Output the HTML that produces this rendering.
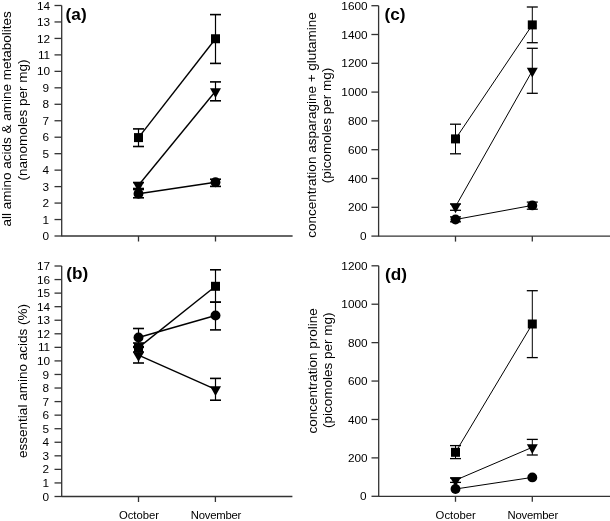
<!DOCTYPE html>
<html><head><meta charset="utf-8"><style>
html,body{margin:0;padding:0;background:#fff;}
body{width:610px;height:521px;overflow:hidden;}
svg{display:block;will-change:transform;font-family:"Liberation Sans", sans-serif;}
</style></head><body>
<svg width="610" height="521" viewBox="0 0 610 521">
<rect width="610" height="521" fill="#fff"/>
<g fill="#000">
<line x1="61.70" y1="5.50" x2="61.70" y2="236.50" stroke="#333" stroke-width="1.3"/>
<line x1="54.50" y1="236.00" x2="61.70" y2="236.00" stroke="#333" stroke-width="1.3"/>
<text x="49.10" y="240.10" text-anchor="end" font-size="11.8" font-weight="normal" >0</text>
<line x1="54.50" y1="219.54" x2="61.70" y2="219.54" stroke="#333" stroke-width="1.3"/>
<text x="49.10" y="223.64" text-anchor="end" font-size="11.8" font-weight="normal" >1</text>
<line x1="54.50" y1="203.07" x2="61.70" y2="203.07" stroke="#333" stroke-width="1.3"/>
<text x="49.10" y="207.17" text-anchor="end" font-size="11.8" font-weight="normal" >2</text>
<line x1="54.50" y1="186.61" x2="61.70" y2="186.61" stroke="#333" stroke-width="1.3"/>
<text x="49.10" y="190.71" text-anchor="end" font-size="11.8" font-weight="normal" >3</text>
<line x1="54.50" y1="170.14" x2="61.70" y2="170.14" stroke="#333" stroke-width="1.3"/>
<text x="49.10" y="174.24" text-anchor="end" font-size="11.8" font-weight="normal" >4</text>
<line x1="54.50" y1="153.68" x2="61.70" y2="153.68" stroke="#333" stroke-width="1.3"/>
<text x="49.10" y="157.78" text-anchor="end" font-size="11.8" font-weight="normal" >5</text>
<line x1="54.50" y1="137.21" x2="61.70" y2="137.21" stroke="#333" stroke-width="1.3"/>
<text x="49.10" y="141.31" text-anchor="end" font-size="11.8" font-weight="normal" >6</text>
<line x1="54.50" y1="120.75" x2="61.70" y2="120.75" stroke="#333" stroke-width="1.3"/>
<text x="49.10" y="124.85" text-anchor="end" font-size="11.8" font-weight="normal" >7</text>
<line x1="54.50" y1="104.29" x2="61.70" y2="104.29" stroke="#333" stroke-width="1.3"/>
<text x="49.10" y="108.39" text-anchor="end" font-size="11.8" font-weight="normal" >8</text>
<line x1="54.50" y1="87.82" x2="61.70" y2="87.82" stroke="#333" stroke-width="1.3"/>
<text x="49.10" y="91.92" text-anchor="end" font-size="11.8" font-weight="normal" >9</text>
<line x1="54.50" y1="71.36" x2="61.70" y2="71.36" stroke="#333" stroke-width="1.3"/>
<text x="50.20" y="75.46" text-anchor="end" font-size="11.8" font-weight="normal" >10</text>
<line x1="54.50" y1="54.89" x2="61.70" y2="54.89" stroke="#333" stroke-width="1.3"/>
<text x="50.20" y="58.99" text-anchor="end" font-size="11.8" font-weight="normal" >11</text>
<line x1="54.50" y1="38.43" x2="61.70" y2="38.43" stroke="#333" stroke-width="1.3"/>
<text x="50.20" y="42.53" text-anchor="end" font-size="11.8" font-weight="normal" >12</text>
<line x1="54.50" y1="21.96" x2="61.70" y2="21.96" stroke="#333" stroke-width="1.3"/>
<text x="50.20" y="26.06" text-anchor="end" font-size="11.8" font-weight="normal" >13</text>
<line x1="54.50" y1="5.50" x2="61.70" y2="5.50" stroke="#333" stroke-width="1.3"/>
<text x="50.20" y="9.60" text-anchor="end" font-size="11.8" font-weight="normal" >14</text>
<line x1="61.70" y1="236.00" x2="292.60" y2="236.00" stroke="#333" stroke-width="1.3"/>
<line x1="138.50" y1="236.00" x2="138.50" y2="241.50" stroke="#333" stroke-width="1.3"/>
<line x1="215.50" y1="236.00" x2="215.50" y2="241.50" stroke="#333" stroke-width="1.3"/>
<line x1="61.70" y1="266.00" x2="61.70" y2="497.00" stroke="#333" stroke-width="1.3"/>
<line x1="54.50" y1="496.50" x2="61.70" y2="496.50" stroke="#333" stroke-width="1.3"/>
<text x="49.10" y="500.60" text-anchor="end" font-size="11.8" font-weight="normal" >0</text>
<line x1="54.50" y1="482.94" x2="61.70" y2="482.94" stroke="#333" stroke-width="1.3"/>
<text x="49.10" y="487.04" text-anchor="end" font-size="11.8" font-weight="normal" >1</text>
<line x1="54.50" y1="469.38" x2="61.70" y2="469.38" stroke="#333" stroke-width="1.3"/>
<text x="49.10" y="473.48" text-anchor="end" font-size="11.8" font-weight="normal" >2</text>
<line x1="54.50" y1="455.82" x2="61.70" y2="455.82" stroke="#333" stroke-width="1.3"/>
<text x="49.10" y="459.92" text-anchor="end" font-size="11.8" font-weight="normal" >3</text>
<line x1="54.50" y1="442.26" x2="61.70" y2="442.26" stroke="#333" stroke-width="1.3"/>
<text x="49.10" y="446.36" text-anchor="end" font-size="11.8" font-weight="normal" >4</text>
<line x1="54.50" y1="428.71" x2="61.70" y2="428.71" stroke="#333" stroke-width="1.3"/>
<text x="49.10" y="432.81" text-anchor="end" font-size="11.8" font-weight="normal" >5</text>
<line x1="54.50" y1="415.15" x2="61.70" y2="415.15" stroke="#333" stroke-width="1.3"/>
<text x="49.10" y="419.25" text-anchor="end" font-size="11.8" font-weight="normal" >6</text>
<line x1="54.50" y1="401.59" x2="61.70" y2="401.59" stroke="#333" stroke-width="1.3"/>
<text x="49.10" y="405.69" text-anchor="end" font-size="11.8" font-weight="normal" >7</text>
<line x1="54.50" y1="388.03" x2="61.70" y2="388.03" stroke="#333" stroke-width="1.3"/>
<text x="49.10" y="392.13" text-anchor="end" font-size="11.8" font-weight="normal" >8</text>
<line x1="54.50" y1="374.47" x2="61.70" y2="374.47" stroke="#333" stroke-width="1.3"/>
<text x="49.10" y="378.57" text-anchor="end" font-size="11.8" font-weight="normal" >9</text>
<line x1="54.50" y1="360.91" x2="61.70" y2="360.91" stroke="#333" stroke-width="1.3"/>
<text x="50.20" y="365.01" text-anchor="end" font-size="11.8" font-weight="normal" >10</text>
<line x1="54.50" y1="347.35" x2="61.70" y2="347.35" stroke="#333" stroke-width="1.3"/>
<text x="50.20" y="351.45" text-anchor="end" font-size="11.8" font-weight="normal" >11</text>
<line x1="54.50" y1="333.79" x2="61.70" y2="333.79" stroke="#333" stroke-width="1.3"/>
<text x="50.20" y="337.89" text-anchor="end" font-size="11.8" font-weight="normal" >12</text>
<line x1="54.50" y1="320.24" x2="61.70" y2="320.24" stroke="#333" stroke-width="1.3"/>
<text x="50.20" y="324.34" text-anchor="end" font-size="11.8" font-weight="normal" >13</text>
<line x1="54.50" y1="306.68" x2="61.70" y2="306.68" stroke="#333" stroke-width="1.3"/>
<text x="50.20" y="310.78" text-anchor="end" font-size="11.8" font-weight="normal" >14</text>
<line x1="54.50" y1="293.12" x2="61.70" y2="293.12" stroke="#333" stroke-width="1.3"/>
<text x="50.20" y="297.22" text-anchor="end" font-size="11.8" font-weight="normal" >15</text>
<line x1="54.50" y1="279.56" x2="61.70" y2="279.56" stroke="#333" stroke-width="1.3"/>
<text x="50.20" y="283.66" text-anchor="end" font-size="11.8" font-weight="normal" >16</text>
<line x1="54.50" y1="266.00" x2="61.70" y2="266.00" stroke="#333" stroke-width="1.3"/>
<text x="50.20" y="270.10" text-anchor="end" font-size="11.8" font-weight="normal" >17</text>
<line x1="61.70" y1="496.50" x2="292.40" y2="496.50" stroke="#333" stroke-width="1.3"/>
<line x1="138.50" y1="496.50" x2="138.50" y2="502.00" stroke="#333" stroke-width="1.3"/>
<line x1="215.40" y1="496.50" x2="215.40" y2="502.00" stroke="#333" stroke-width="1.3"/>
<line x1="378.60" y1="5.70" x2="378.60" y2="236.60" stroke="#333" stroke-width="1.3"/>
<line x1="371.40" y1="236.10" x2="378.60" y2="236.10" stroke="#333" stroke-width="1.3"/>
<text x="366.50" y="240.20" text-anchor="end" font-size="11.8" font-weight="normal" >0</text>
<line x1="371.40" y1="207.30" x2="378.60" y2="207.30" stroke="#333" stroke-width="1.3"/>
<text x="367.60" y="211.40" text-anchor="end" font-size="11.8" font-weight="normal" >200</text>
<line x1="371.40" y1="178.50" x2="378.60" y2="178.50" stroke="#333" stroke-width="1.3"/>
<text x="367.60" y="182.60" text-anchor="end" font-size="11.8" font-weight="normal" >400</text>
<line x1="371.40" y1="149.70" x2="378.60" y2="149.70" stroke="#333" stroke-width="1.3"/>
<text x="367.60" y="153.80" text-anchor="end" font-size="11.8" font-weight="normal" >600</text>
<line x1="371.40" y1="120.90" x2="378.60" y2="120.90" stroke="#333" stroke-width="1.3"/>
<text x="367.60" y="125.00" text-anchor="end" font-size="11.8" font-weight="normal" >800</text>
<line x1="371.40" y1="92.10" x2="378.60" y2="92.10" stroke="#333" stroke-width="1.3"/>
<text x="367.60" y="96.20" text-anchor="end" font-size="11.8" font-weight="normal" >1000</text>
<line x1="371.40" y1="63.30" x2="378.60" y2="63.30" stroke="#333" stroke-width="1.3"/>
<text x="367.60" y="67.40" text-anchor="end" font-size="11.8" font-weight="normal" >1200</text>
<line x1="371.40" y1="34.50" x2="378.60" y2="34.50" stroke="#333" stroke-width="1.3"/>
<text x="367.60" y="38.60" text-anchor="end" font-size="11.8" font-weight="normal" >1400</text>
<line x1="371.40" y1="5.70" x2="378.60" y2="5.70" stroke="#333" stroke-width="1.3"/>
<text x="367.60" y="9.80" text-anchor="end" font-size="11.8" font-weight="normal" >1600</text>
<line x1="378.60" y1="236.10" x2="610.00" y2="236.10" stroke="#333" stroke-width="1.3"/>
<line x1="455.50" y1="236.10" x2="455.50" y2="241.60" stroke="#333" stroke-width="1.3"/>
<line x1="532.30" y1="236.10" x2="532.30" y2="241.60" stroke="#333" stroke-width="1.3"/>
<line x1="378.70" y1="265.80" x2="378.70" y2="496.80" stroke="#333" stroke-width="1.3"/>
<line x1="371.50" y1="496.30" x2="378.70" y2="496.30" stroke="#333" stroke-width="1.3"/>
<text x="366.50" y="500.40" text-anchor="end" font-size="11.8" font-weight="normal" >0</text>
<line x1="371.50" y1="457.88" x2="378.70" y2="457.88" stroke="#333" stroke-width="1.3"/>
<text x="367.60" y="461.98" text-anchor="end" font-size="11.8" font-weight="normal" >200</text>
<line x1="371.50" y1="419.47" x2="378.70" y2="419.47" stroke="#333" stroke-width="1.3"/>
<text x="367.60" y="423.57" text-anchor="end" font-size="11.8" font-weight="normal" >400</text>
<line x1="371.50" y1="381.05" x2="378.70" y2="381.05" stroke="#333" stroke-width="1.3"/>
<text x="367.60" y="385.15" text-anchor="end" font-size="11.8" font-weight="normal" >600</text>
<line x1="371.50" y1="342.63" x2="378.70" y2="342.63" stroke="#333" stroke-width="1.3"/>
<text x="367.60" y="346.73" text-anchor="end" font-size="11.8" font-weight="normal" >800</text>
<line x1="371.50" y1="304.22" x2="378.70" y2="304.22" stroke="#333" stroke-width="1.3"/>
<text x="367.60" y="308.32" text-anchor="end" font-size="11.8" font-weight="normal" >1000</text>
<line x1="371.50" y1="265.80" x2="378.70" y2="265.80" stroke="#333" stroke-width="1.3"/>
<text x="367.60" y="269.90" text-anchor="end" font-size="11.8" font-weight="normal" >1200</text>
<line x1="378.70" y1="496.30" x2="610.00" y2="496.30" stroke="#333" stroke-width="1.3"/>
<line x1="455.50" y1="496.30" x2="455.50" y2="501.80" stroke="#333" stroke-width="1.3"/>
<line x1="532.30" y1="496.30" x2="532.30" y2="501.80" stroke="#333" stroke-width="1.3"/>
<line x1="138.50" y1="137.60" x2="215.50" y2="38.75" stroke="#000" stroke-width="1.4"/>
<line x1="138.50" y1="185.30" x2="215.50" y2="91.30" stroke="#000" stroke-width="1.4"/>
<line x1="138.50" y1="193.70" x2="215.50" y2="182.20" stroke="#000" stroke-width="1.4"/>
<line x1="138.50" y1="337.50" x2="215.50" y2="315.50" stroke="#000" stroke-width="1.4"/>
<line x1="138.50" y1="347.60" x2="215.50" y2="286.30" stroke="#000" stroke-width="1.4"/>
<line x1="138.50" y1="355.20" x2="215.50" y2="389.30" stroke="#000" stroke-width="1.4"/>
<line x1="455.50" y1="138.90" x2="532.30" y2="24.90" stroke="#000" stroke-width="1.0"/>
<line x1="455.50" y1="206.60" x2="532.30" y2="70.80" stroke="#000" stroke-width="1.0"/>
<line x1="455.50" y1="219.50" x2="532.30" y2="205.40" stroke="#000" stroke-width="1.0"/>
<line x1="455.50" y1="452.30" x2="532.30" y2="324.00" stroke="#000" stroke-width="1.0"/>
<line x1="455.50" y1="480.20" x2="532.30" y2="447.30" stroke="#000" stroke-width="1.0"/>
<line x1="455.50" y1="489.00" x2="532.30" y2="477.40" stroke="#000" stroke-width="1.0"/>
<line x1="138.50" y1="128.90" x2="138.50" y2="146.50" stroke="#000" stroke-width="1.2"/>
<line x1="133.00" y1="128.90" x2="144.00" y2="128.90" stroke="#000" stroke-width="1.6"/>
<line x1="133.00" y1="146.50" x2="144.00" y2="146.50" stroke="#000" stroke-width="1.6"/>
<line x1="215.50" y1="14.60" x2="215.50" y2="63.40" stroke="#000" stroke-width="1.2"/>
<line x1="210.00" y1="14.60" x2="221.00" y2="14.60" stroke="#000" stroke-width="1.6"/>
<line x1="210.00" y1="63.40" x2="221.00" y2="63.40" stroke="#000" stroke-width="1.6"/>
<line x1="138.50" y1="182.50" x2="138.50" y2="188.50" stroke="#000" stroke-width="1.2"/>
<line x1="133.00" y1="182.50" x2="144.00" y2="182.50" stroke="#000" stroke-width="1.6"/>
<line x1="133.00" y1="188.50" x2="144.00" y2="188.50" stroke="#000" stroke-width="1.6"/>
<line x1="215.50" y1="81.90" x2="215.50" y2="100.80" stroke="#000" stroke-width="1.2"/>
<line x1="210.00" y1="81.90" x2="221.00" y2="81.90" stroke="#000" stroke-width="1.6"/>
<line x1="210.00" y1="100.80" x2="221.00" y2="100.80" stroke="#000" stroke-width="1.6"/>
<line x1="138.50" y1="189.50" x2="138.50" y2="197.80" stroke="#000" stroke-width="1.2"/>
<line x1="133.00" y1="189.50" x2="144.00" y2="189.50" stroke="#000" stroke-width="1.6"/>
<line x1="133.00" y1="197.80" x2="144.00" y2="197.80" stroke="#000" stroke-width="1.6"/>
<line x1="215.50" y1="179.20" x2="215.50" y2="186.40" stroke="#000" stroke-width="1.2"/>
<line x1="210.00" y1="179.20" x2="221.00" y2="179.20" stroke="#000" stroke-width="1.6"/>
<line x1="210.00" y1="186.40" x2="221.00" y2="186.40" stroke="#000" stroke-width="1.6"/>
<line x1="138.50" y1="328.50" x2="138.50" y2="346.50" stroke="#000" stroke-width="1.2"/>
<line x1="133.00" y1="328.50" x2="144.00" y2="328.50" stroke="#000" stroke-width="1.6"/>
<line x1="133.00" y1="346.50" x2="144.00" y2="346.50" stroke="#000" stroke-width="1.6"/>
<line x1="215.50" y1="302.20" x2="215.50" y2="329.90" stroke="#000" stroke-width="1.2"/>
<line x1="210.00" y1="302.20" x2="221.00" y2="302.20" stroke="#000" stroke-width="1.6"/>
<line x1="210.00" y1="329.90" x2="221.00" y2="329.90" stroke="#000" stroke-width="1.6"/>
<line x1="138.50" y1="343.00" x2="138.50" y2="352.00" stroke="#000" stroke-width="1.2"/>
<line x1="133.00" y1="343.00" x2="144.00" y2="343.00" stroke="#000" stroke-width="1.6"/>
<line x1="133.00" y1="352.00" x2="144.00" y2="352.00" stroke="#000" stroke-width="1.6"/>
<line x1="215.50" y1="269.80" x2="215.50" y2="302.20" stroke="#000" stroke-width="1.2"/>
<line x1="210.00" y1="269.80" x2="221.00" y2="269.80" stroke="#000" stroke-width="1.6"/>
<line x1="210.00" y1="302.20" x2="221.00" y2="302.20" stroke="#000" stroke-width="1.6"/>
<line x1="138.50" y1="347.40" x2="138.50" y2="363.00" stroke="#000" stroke-width="1.2"/>
<line x1="133.00" y1="347.40" x2="144.00" y2="347.40" stroke="#000" stroke-width="1.6"/>
<line x1="133.00" y1="363.00" x2="144.00" y2="363.00" stroke="#000" stroke-width="1.6"/>
<line x1="215.50" y1="378.40" x2="215.50" y2="400.20" stroke="#000" stroke-width="1.2"/>
<line x1="210.00" y1="378.40" x2="221.00" y2="378.40" stroke="#000" stroke-width="1.6"/>
<line x1="210.00" y1="400.20" x2="221.00" y2="400.20" stroke="#000" stroke-width="1.6"/>
<line x1="455.50" y1="124.20" x2="455.50" y2="153.80" stroke="#000" stroke-width="1.0"/>
<line x1="450.00" y1="124.20" x2="461.00" y2="124.20" stroke="#000" stroke-width="1.3"/>
<line x1="450.00" y1="153.80" x2="461.00" y2="153.80" stroke="#000" stroke-width="1.3"/>
<line x1="532.30" y1="7.00" x2="532.30" y2="42.70" stroke="#000" stroke-width="1.0"/>
<line x1="526.80" y1="7.00" x2="537.80" y2="7.00" stroke="#000" stroke-width="1.3"/>
<line x1="526.80" y1="42.70" x2="537.80" y2="42.70" stroke="#000" stroke-width="1.3"/>
<line x1="455.50" y1="204.00" x2="455.50" y2="210.30" stroke="#000" stroke-width="1.0"/>
<line x1="450.00" y1="204.00" x2="461.00" y2="204.00" stroke="#000" stroke-width="1.3"/>
<line x1="450.00" y1="210.30" x2="461.00" y2="210.30" stroke="#000" stroke-width="1.3"/>
<line x1="532.30" y1="48.30" x2="532.30" y2="93.30" stroke="#000" stroke-width="1.0"/>
<line x1="526.80" y1="48.30" x2="537.80" y2="48.30" stroke="#000" stroke-width="1.3"/>
<line x1="526.80" y1="93.30" x2="537.80" y2="93.30" stroke="#000" stroke-width="1.3"/>
<line x1="455.50" y1="216.90" x2="455.50" y2="221.80" stroke="#000" stroke-width="1.0"/>
<line x1="450.00" y1="216.90" x2="461.00" y2="216.90" stroke="#000" stroke-width="1.3"/>
<line x1="450.00" y1="221.80" x2="461.00" y2="221.80" stroke="#000" stroke-width="1.3"/>
<line x1="532.30" y1="202.10" x2="532.30" y2="209.20" stroke="#000" stroke-width="1.0"/>
<line x1="526.80" y1="202.10" x2="537.80" y2="202.10" stroke="#000" stroke-width="1.3"/>
<line x1="526.80" y1="209.20" x2="537.80" y2="209.20" stroke="#000" stroke-width="1.3"/>
<line x1="455.50" y1="445.60" x2="455.50" y2="458.60" stroke="#000" stroke-width="1.0"/>
<line x1="450.00" y1="445.60" x2="461.00" y2="445.60" stroke="#000" stroke-width="1.3"/>
<line x1="450.00" y1="458.60" x2="461.00" y2="458.60" stroke="#000" stroke-width="1.3"/>
<line x1="532.30" y1="290.70" x2="532.30" y2="357.60" stroke="#000" stroke-width="1.0"/>
<line x1="526.80" y1="290.70" x2="537.80" y2="290.70" stroke="#000" stroke-width="1.3"/>
<line x1="526.80" y1="357.60" x2="537.80" y2="357.60" stroke="#000" stroke-width="1.3"/>
<line x1="455.50" y1="478.00" x2="455.50" y2="482.40" stroke="#000" stroke-width="1.0"/>
<line x1="450.00" y1="478.00" x2="461.00" y2="478.00" stroke="#000" stroke-width="1.3"/>
<line x1="450.00" y1="482.40" x2="461.00" y2="482.40" stroke="#000" stroke-width="1.3"/>
<line x1="532.30" y1="439.40" x2="532.30" y2="455.00" stroke="#000" stroke-width="1.0"/>
<line x1="526.80" y1="439.40" x2="537.80" y2="439.40" stroke="#000" stroke-width="1.3"/>
<line x1="526.80" y1="455.00" x2="537.80" y2="455.00" stroke="#000" stroke-width="1.3"/>
<rect x="134.00" y="133.10" width="9" height="9" fill="#000"/>
<rect x="211.00" y="34.25" width="9" height="9" fill="#000"/>
<polygon points="133.00,182.30 144.00,182.30 138.50,191.90" fill="#000"/>
<polygon points="210.00,88.30 221.00,88.30 215.50,97.90" fill="#000"/>
<circle cx="138.50" cy="193.70" r="4.95" fill="#000"/>
<circle cx="215.50" cy="182.20" r="4.95" fill="#000"/>
<circle cx="138.50" cy="337.50" r="4.95" fill="#000"/>
<circle cx="215.50" cy="315.50" r="4.95" fill="#000"/>
<rect x="134.00" y="343.10" width="9" height="9" fill="#000"/>
<rect x="211.00" y="281.80" width="9" height="9" fill="#000"/>
<polygon points="133.00,352.20 144.00,352.20 138.50,361.80" fill="#000"/>
<polygon points="210.00,386.30 221.00,386.30 215.50,395.90" fill="#000"/>
<rect x="451.00" y="134.40" width="9" height="9" fill="#000"/>
<rect x="527.80" y="20.40" width="9" height="9" fill="#000"/>
<polygon points="450.00,203.60 461.00,203.60 455.50,213.20" fill="#000"/>
<polygon points="526.80,67.80 537.80,67.80 532.30,77.40" fill="#000"/>
<circle cx="455.50" cy="219.50" r="4.95" fill="#000"/>
<circle cx="532.30" cy="205.40" r="4.95" fill="#000"/>
<rect x="451.00" y="447.80" width="9" height="9" fill="#000"/>
<rect x="527.80" y="319.50" width="9" height="9" fill="#000"/>
<polygon points="450.00,477.20 461.00,477.20 455.50,486.80" fill="#000"/>
<polygon points="526.80,444.30 537.80,444.30 532.30,453.90" fill="#000"/>
<circle cx="455.50" cy="489.00" r="4.95" fill="#000"/>
<circle cx="532.30" cy="477.40" r="4.95" fill="#000"/>
<text x="65.60" y="19.50" text-anchor="start" font-size="17.2" font-weight="bold" >(a)</text>
<text x="66.20" y="279.40" text-anchor="start" font-size="17.2" font-weight="bold" >(b)</text>
<text x="384.50" y="19.70" text-anchor="start" font-size="17.2" font-weight="bold" >(c)</text>
<text x="385.10" y="279.80" text-anchor="start" font-size="17.2" font-weight="bold" >(d)</text>
<text x="0" y="0" text-anchor="middle" font-size="13.5" transform="translate(11.00,118.90) rotate(-90)">all amino acids &amp; amine metabolites</text>
<text x="0" y="0" text-anchor="middle" font-size="13.5" transform="translate(26.80,120.00) rotate(-90)">(nanomoles per mg)</text>
<text x="0" y="0" text-anchor="middle" font-size="13.5" transform="translate(26.80,381.00) rotate(-90)">essential amino acids (%)</text>
<text x="0" y="0" text-anchor="middle" font-size="13.5" transform="translate(316.10,124.90) rotate(-90)">concentration asparagine + glutamine</text>
<text x="0" y="0" text-anchor="middle" font-size="13.5" transform="translate(331.00,125.60) rotate(-90)">(picomoles per mg)</text>
<text x="0" y="0" text-anchor="middle" font-size="13.5" transform="translate(317.20,370.80) rotate(-90)">concentration proline</text>
<text x="0" y="0" text-anchor="middle" font-size="13.5" transform="translate(331.80,370.20) rotate(-90)">(picomoles per mg)</text>
<text x="139.00" y="518.50" text-anchor="middle" font-size="11.3" font-weight="normal" >October</text>
<text x="215.90" y="518.50" text-anchor="middle" font-size="11.3" font-weight="normal" letter-spacing="-0.22">November</text>
<text x="455.70" y="518.50" text-anchor="middle" font-size="11.3" font-weight="normal" >October</text>
<text x="532.80" y="518.50" text-anchor="middle" font-size="11.3" font-weight="normal" letter-spacing="-0.22">November</text>
</g>
</svg>
</body></html>
